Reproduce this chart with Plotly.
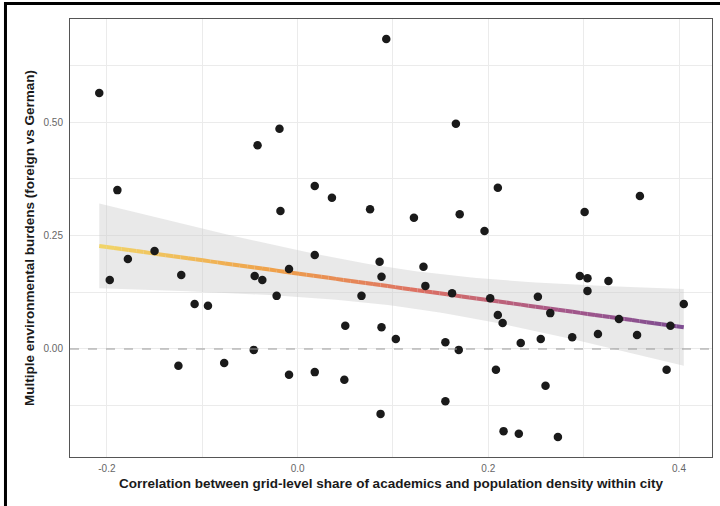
import numpy as np
import plotly.graph_objects as go

# Data
corr_academics_density = [
    -0.208, -0.189, -0.197, -0.178, -0.150, -0.122, -0.108, -0.094, -0.125, -0.077,
    -0.045, -0.037, -0.022, -0.009, 0.018, -0.046, -0.009, 0.018, 0.049, 0.050,
    0.067, 0.086, 0.088, 0.088, 0.103, 0.087, 0.093, -0.019, -0.042, 0.018,
    0.036, -0.018, 0.076, 0.166, 0.210, 0.122, 0.170, 0.196, 0.359, 0.301,
    0.132, 0.134, 0.162, 0.202, 0.210, 0.215, 0.252, 0.265, 0.155, 0.169,
    0.234, 0.255, 0.208, 0.260, 0.155, 0.216, 0.232, 0.273, 0.296, 0.304,
    0.326, 0.304, 0.405, 0.337, 0.391, 0.288, 0.315, 0.356, 0.387,
]
env_burden_gap = [
    0.564, 0.350, 0.152, 0.198, 0.216, 0.163, 0.099, 0.095, -0.037, -0.031,
    0.161, 0.152, 0.117, 0.176, 0.207, -0.002, -0.057, -0.051, -0.068, 0.051,
    0.117, 0.192, 0.159, 0.048, 0.022, -0.143, 0.683, 0.485, 0.449, 0.359,
    0.333, 0.304, 0.308, 0.496, 0.355, 0.289, 0.297, 0.260, 0.337, 0.302,
    0.181, 0.139, 0.123, 0.112, 0.075, 0.057, 0.115, 0.079, 0.015, -0.002,
    0.013, 0.022, -0.046, -0.081, -0.115, -0.181, -0.187, -0.194, 0.161, 0.156,
    0.150, 0.128, 0.099, 0.066, 0.051, 0.026, 0.033, 0.031, -0.046,
]
x_tick_vals = [-0.2, -0.1, 0.0, 0.1, 0.2, 0.3, 0.4]
x_tick_text = ["-0.2", "", "0.0", "", "0.2", "", "0.4"]
y_tick_vals = [-0.125, 0.0, 0.125, 0.25, 0.375, 0.5, 0.625]
y_tick_text = ["", "0.00", "", "0.25", "", "0.50", ""]

x = np.array(corr_academics_density)
y = np.array(env_burden_gap)

# Linear fit with 95% confidence band (like geom_smooth(method="lm"))
n = len(x)
b1, b0 = np.polyfit(x, y, 1)
resid = y - (b0 + b1 * x)
s = np.sqrt(np.sum(resid ** 2) / (n - 2))
xm = x.mean()
sxx = np.sum((x - xm) ** 2)
T_CRIT = 1.996
xg = np.linspace(x.min(), x.max(), 80)
yg = b0 + b1 * xg
se = s * np.sqrt(1.0 / n + (xg - xm) ** 2 / sxx)
lo = yg - T_CRIT * se
hi = yg + T_CRIT * se

fig = go.Figure()

fig.add_trace(go.Scatter(
    x=np.concatenate([xg, xg[::-1]]), y=np.concatenate([hi, lo[::-1]]),
    fill="toself", fillcolor="rgba(200,200,200,0.4)", line=dict(width=0),
    mode="lines", hoverinfo="skip", showlegend=False))

stops = [(0.0, (241, 212, 104)), (0.3, (239, 160, 74)), (0.55, (220, 112, 100)),
         (0.8, (164, 87, 138)), (1.0, (126, 77, 145))]

def cmap(t):
    for (t0, c0), (t1, c1) in zip(stops[:-1], stops[1:]):
        if t <= t1:
            f = (t - t0) / (t1 - t0)
            c = [round(a + (b - a) * f) for a, b in zip(c0, c1)]
            return "rgb(%d,%d,%d)" % tuple(c)
    return "rgb(%d,%d,%d)" % stops[-1][1]

for i in range(len(xg) - 1):
    t = i / (len(xg) - 2)
    fig.add_trace(go.Scatter(
        x=[xg[i], xg[i + 1]], y=[yg[i], yg[i + 1]], mode="lines",
        line=dict(color=cmap(t), width=4), hoverinfo="skip", showlegend=False))

fig.add_trace(go.Scatter(
    x=x, y=y, mode="markers",
    marker=dict(color="#1a1a1a", size=8.5, line=dict(width=0)),
    showlegend=False))

fig.add_shape(type="line", xref="paper", yref="y", x0=0, x1=1, y0=0, y1=0,
              line=dict(color="#9a9a9a", width=1.2, dash="dash"))

# outer black frame (its right and bottom sides fall outside the image)
fig.add_shape(type="rect", xref="paper", yref="paper",
              x0=-0.1005, x1=1.08, y0=-0.16, y1=1.0354,
              line=dict(color="black", width=3), fillcolor="rgba(0,0,0,0)")

axis_common = dict(showgrid=True, gridcolor="#ebebeb", gridwidth=1,
                   zeroline=False, showline=True, linecolor="#555555",
                   linewidth=1, mirror=True, ticks="",
                   tickfont=dict(family="Liberation Sans", size=10, color="#666666"))

fig.update_xaxes(range=[-0.2387, 0.4346], tickvals=x_tick_vals, ticktext=x_tick_text,
                 ticklabelstandoff=2,
                 title=dict(text="<b>Correlation between grid-level share of academics and population density within city</b>",
                            font=dict(family="Liberation Sans", size=13.5, color="#1a1a1a"),
                            standoff=5),
                 **axis_common)
fig.update_yaxes(range=[-0.238, 0.727], tickvals=y_tick_vals, ticktext=y_tick_text,
                 ticklabelstandoff=4,
                 title=dict(text="<b>Multiple environmental burdens (foreign vs German)</b>",
                            font=dict(family="Liberation Sans", size=13.5, color="#1a1a1a"),
                            standoff=5),
                 **axis_common)

fig.update_layout(width=720, height=506, margin=dict(l=70, r=8, t=19, b=49),
                  plot_bgcolor="white", paper_bgcolor="white", showlegend=False)

fig.write_html("out.html", config={"displayModeBar": False},
               post_script="document.body.style.margin='0px';document.body.style.overflow='hidden';")
